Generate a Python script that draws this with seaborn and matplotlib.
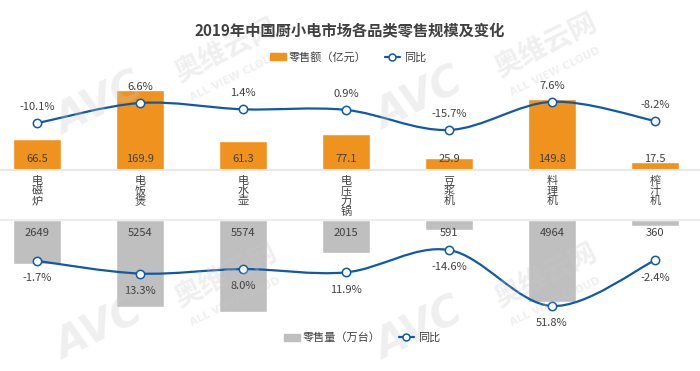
import numpy as np
import matplotlib
matplotlib.use('Agg')
import matplotlib.pyplot as plt
from matplotlib.path import Path
from matplotlib.patches import PathPatch, Patch
from matplotlib.lines import Line2D
import seaborn as sns

categories = ['电磁炉', '电饭煲', '电水壶', '电压力锅', '豆浆机', '料理机', '榨汁机']
sales_value = [66.5, 169.9, 61.3, 77.1, 25.9, 149.8, 17.5]      # 零售额（亿元）
value_yoy = [-10.1, 6.6, 1.4, 0.9, -15.7, 7.6, -8.2]
sales_volume = [2649, 5254, 5574, 2015, 591, 4964, 360]         # 零售量（万台）
volume_yoy = [-1.7, 13.3, 8.0, 11.9, -14.6, 51.8, -2.4]

ORANGE = '#F0931E'
GREY = '#BFBFBF'
BLUE = '#0E5AA7'
TXT = '#404040'

sns.set_style('white')
plt.rcParams['font.family'] = ['Noto Sans CJK SC', 'DejaVu Sans']

W, H = 700, 371
fig = plt.figure(figsize=(7, 3.71), dpi=100)


def px(x0, y0, x1, y1):
    return [x0 / W, 1 - y1 / H, (x1 - x0) / W, (y1 - y0) / H]


def smooth_path(xs, ys):
    # catmull-rom style smoothing, like Excel's smoothed line
    pts = np.column_stack([xs, ys]).astype(float)
    ext = np.vstack([pts[0], pts, pts[-1]])
    verts = [pts[0]]
    codes = [Path.MOVETO]
    for i in range(len(pts) - 1):
        p0, p1, p2, p3 = ext[i], ext[i + 1], ext[i + 2], ext[i + 3]
        verts += [p1 + (p2 - p0) / 6, p2 - (p3 - p1) / 6, p2]
        codes += [Path.CURVE4] * 3
    return Path(verts, codes)


xlim = (-37 / 103, 663 / 103)
xs = np.arange(len(categories))

# ---- faint watermarks (behind everything) ----
for cx, cy in [(100, 105), (420, 100), (100, 330), (420, 330)]:
    fig.text(cx / W, 1 - cy / H, 'AVC', ha='center', va='center', fontsize=30,
             fontweight='bold', style='italic', rotation=26, color='#C8C8C8',
             alpha=0.28, zorder=0, family='DejaVu Sans')
    fig.text((cx + 125) / W, 1 - (cy - 55) / H, '奥维云网', ha='center',
             va='center', fontsize=20, fontweight='bold', rotation=26,
             color='#C8C8C8', alpha=0.28, zorder=0)
    fig.text((cx + 135) / W, 1 - (cy - 28) / H, 'ALL VIEW CLOUD', ha='center',
             va='center', fontsize=7.5, fontweight='bold', rotation=26,
             color='#C8C8C8', alpha=0.28, zorder=0, family='DejaVu Sans')

# ---- top: retail value ----
ax_top = fig.add_axes(px(0, 70, 700, 170))
ax_top.patch.set_alpha(0)
sns.barplot(x=categories, y=sales_value, color=ORANGE, saturation=1,
            width=0.46, ax=ax_top)
ax_top.set_xlim(xlim)
ax_top.set_ylim(0, 212.4)
ax_top.axis('off')
ax_top.axhline(0, color='#E8E8E8', lw=1.5, clip_on=False)
for i, v in enumerate(sales_value):
    ax_top.annotate(f'{v}', (i, 0), xytext=(0, 8), textcoords='offset points',
                    ha='center', va='center', fontsize=8, color=TXT)

tw_top = ax_top.twinx()
tw_top.set_xlim(xlim)
tw_top.set_ylim(-48.8, 33.9)
tw_top.axis('off')
tw_top.add_patch(PathPatch(smooth_path(xs, value_yoy), fill=False,
                           edgecolor=BLUE, lw=1.6))
tw_top.plot(xs, value_yoy, ls='', marker='o', ms=6, mfc='white',
            mec=BLUE, mew=1.1)
for i, v in enumerate(value_yoy):
    tw_top.annotate(f'{v:.1f}%', (i, v), xytext=(0, 11.5),
                    textcoords='offset points', ha='center', va='center',
                    fontsize=8, color=TXT)

# ---- bottom: retail volume ----
ax_bot = fig.add_axes(px(0, 220, 700, 320))
ax_bot.patch.set_alpha(0)
sns.barplot(x=categories, y=sales_volume, color=GREY, saturation=1,
            width=0.46, ax=ax_bot)
ax_bot.set_xlim(xlim)
ax_bot.set_ylim(6059, 0)
ax_bot.axis('off')
ax_bot.axhline(0, color='#EDEDED', lw=1.5, clip_on=False)
for i, v in enumerate(sales_volume):
    ax_bot.annotate(f'{v}', (i, 0), xytext=(0, -9.5), textcoords='offset points',
                    ha='center', va='center', fontsize=8, color=TXT)

tw_bot = ax_bot.twinx()
tw_bot.set_xlim(xlim)
tw_bot.set_ylim(68.4, -50.2)
tw_bot.axis('off')
tw_bot.add_patch(PathPatch(smooth_path(xs, volume_yoy), fill=False,
                           edgecolor=BLUE, lw=1.6))
tw_bot.plot(xs, volume_yoy, ls='', marker='o', ms=6, mfc='white',
            mec=BLUE, mew=1.1)
for i, v in enumerate(volume_yoy):
    tw_bot.annotate(f'{v:.1f}%', (i, v), xytext=(0, -12.5),
                    textcoords='offset points', ha='center', va='center',
                    fontsize=8, color=TXT)

# ---- category names, stacked vertically ----
for i, cat in enumerate(categories):
    fig.text((37 + 103 * i) / W, 1 - 176 / H, '\n'.join(cat), ha='center',
             va='top', fontsize=8, linespacing=1.0, color=TXT)

# ---- title and legends ----
fig.text(0.5, 1 - 30 / H, '2019年中国厨小电市场各品类零售规模及变化',
         ha='center', va='center', fontsize=11, fontweight='bold', color=TXT)

line_h = Line2D([], [], color=BLUE, lw=1.6, marker='o', ms=5,
                mfc='white', mec=BLUE, mew=1.1)
leg_kw = dict(loc='center', ncol=2, frameon=False, fontsize=8,
              handlelength=1.4, handletextpad=0.3, columnspacing=1.6,
              labelcolor=TXT)
fig.legend([Patch(color=ORANGE), line_h], ['零售额（亿元）', '同比'],
           bbox_to_anchor=(348 / W, 1 - 57 / H), **leg_kw)
fig.legend([Patch(color=GREY), line_h], ['零售量（万台）', '同比'],
           bbox_to_anchor=(362 / W, 1 - 338 / H), **leg_kw)

fig.savefig('out.png', dpi=100)
